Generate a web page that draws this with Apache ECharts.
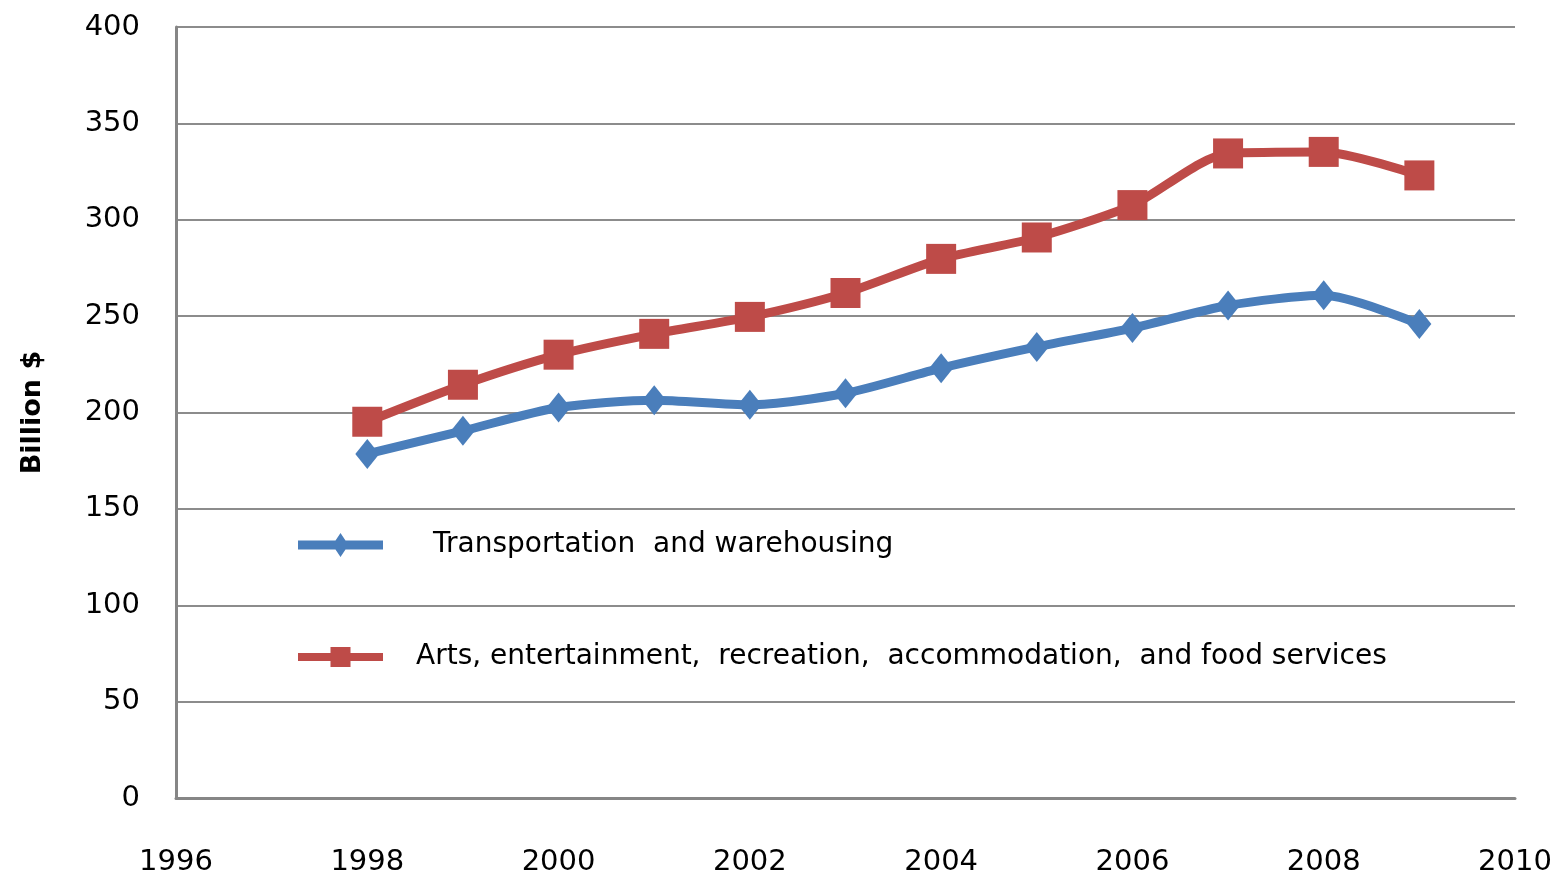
<!DOCTYPE html>
<html>
<head>
<meta charset="utf-8">
<script src="https://cdn.jsdelivr.net/npm/echarts@6/dist/echarts.min.js"></script>
<style>
html,body{margin:0;padding:0;background:#fff;}
#chart{width:1559px;height:878px;}
</style>
</head>
<body>
<div id="chart"></div>
<script>
var years = [1998, 1999, 2000, 2001, 2002, 2003, 2004, 2005, 2006, 2007, 2008, 2009];
var transportation = [178.5, 190.5, 202.6, 206.4, 204, 210, 223, 234, 243.8, 255.5, 260.8, 245.9];
var arts = [195.2, 214.4, 230, 240.8, 249.6, 262, 279.7, 290.8, 307.6, 334.4, 335.2, 323];
var seriesNames = ['Transportation  and warehousing', 'Arts, entertainment,  recreation,  accommodation,  and food services'];
var yTicks = {min: 0, max: 400, interval: 50};
var xTicks = {min: 1996, max: 2010, interval: 2};

function pairs(xs, ys) { return xs.map(function (x, i) { return [x, ys[i]]; }); }

var chart = echarts.init(document.getElementById('chart'));
var font = 'DejaVu Sans';
var blue = '#4a7ebb', red = '#be4b48';
var diamondIcon = 'path://M0,7.5 L37.5,7.5 L42.5,0 L47.5,7.5 L85,7.5 L85,16.5 L47.5,16.5 L42.5,24 L37.5,16.5 L0,16.5 Z';
var squareIcon = 'path://M0,6 L32.5,6 L32.5,0 L52.5,0 L52.5,6 L85,6 L85,14 L52.5,14 L52.5,20 L32.5,20 L32.5,14 L0,14 Z';
chart.setOption({
  animation: false,
  backgroundColor: '#ffffff',
  grid: {left: 176, right: 44, top: 27, bottom: 80, containLabel: false},
  legend: [
    {
      orient: 'vertical',
      left: 293,
      top: 526,
      itemWidth: 85,
      itemHeight: 24,
      textStyle: {fontFamily: font, fontSize: 28, color: '#000', padding: [0, 0, 0, 45]},
      data: [{name: seriesNames[0], icon: diamondIcon, itemStyle: {color: blue}}]
    },
    {
      orient: 'vertical',
      left: 293,
      top: 638,
      itemWidth: 85,
      itemHeight: 20,
      textStyle: {fontFamily: font, fontSize: 28, color: '#000', padding: [0, 0, 0, 28]},
      data: [{name: seriesNames[1], icon: squareIcon, itemStyle: {color: red}}]
    }
  ],
  xAxis: {
    type: 'value',
    min: xTicks.min, max: xTicks.max, interval: xTicks.interval,
    axisLine: {show: true, lineStyle: {color: '#868686', width: 3}},
    axisTick: {show: false},
    splitLine: {show: false},
    axisLabel: {fontFamily: font, fontSize: 29, color: '#000', margin: 50, formatter: function (v) { return String(v); }}
  },
  yAxis: {
    type: 'value',
    min: yTicks.min, max: yTicks.max, interval: yTicks.interval,
    name: 'Billion $',
    nameLocation: 'middle',
    nameGap: 130,
    nameTextStyle: {fontFamily: font, fontSize: 27, fontWeight: 'bold', color: '#000'},
    axisLine: {show: true, lineStyle: {color: '#868686', width: 3}},
    axisTick: {show: false},
    splitLine: {show: true, lineStyle: {color: '#8c8c8c', width: 2}},
    axisLabel: {fontFamily: font, fontSize: 29, color: '#000', margin: 36}
  },
  series: [
    {
      name: seriesNames[0],
      type: 'line',
      data: pairs(years, transportation),
      smooth: 0.25,
      symbol: 'diamond',
      symbolSize: [24, 30],
      lineStyle: {color: blue, width: 9},
      itemStyle: {color: blue}
    },
    {
      name: seriesNames[1],
      type: 'line',
      data: pairs(years, arts),
      smooth: 0.25,
      symbol: 'rect',
      symbolSize: 30,
      lineStyle: {color: red, width: 9},
      itemStyle: {color: red}
    }
  ]
});
</script>
</body>
</html>
